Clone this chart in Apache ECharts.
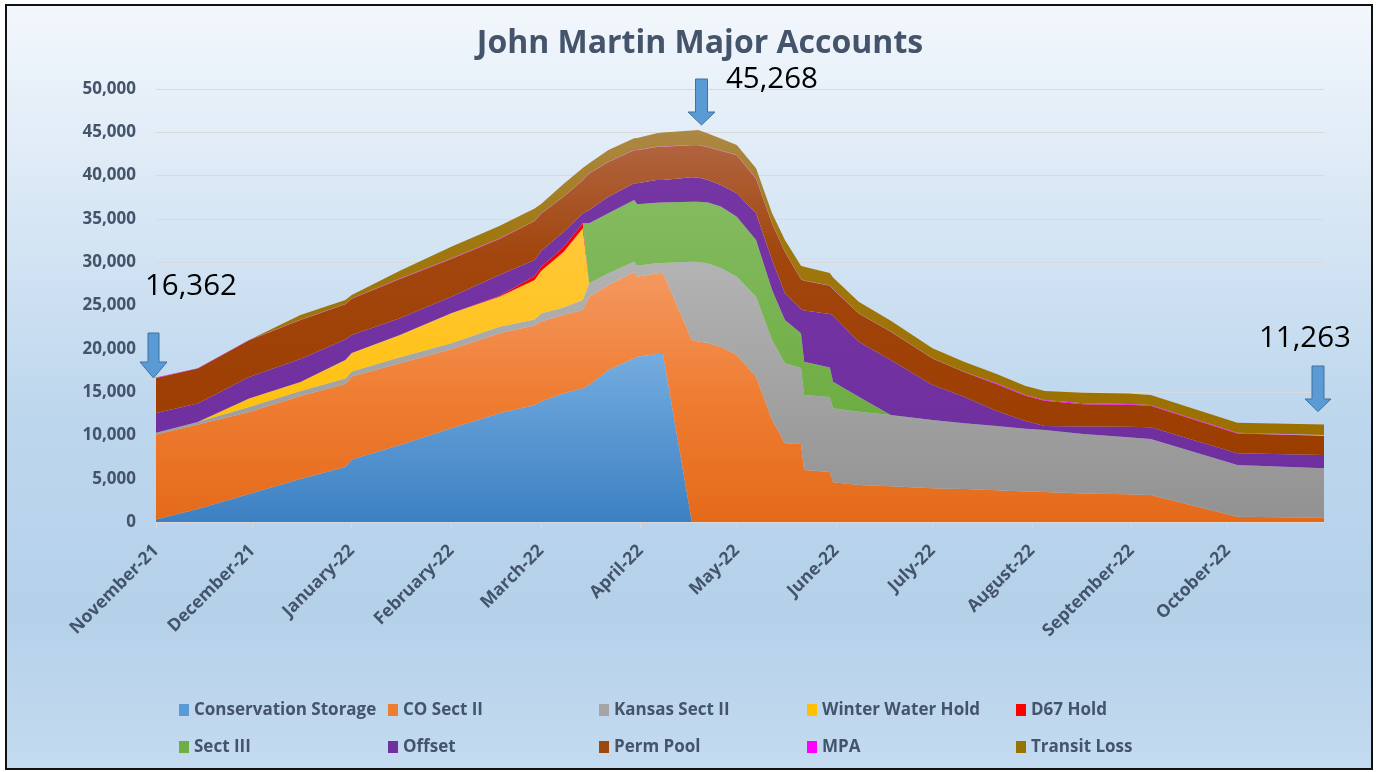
<!DOCTYPE html>
<html>
<head>
<meta charset="utf-8">
<script src="https://cdn.jsdelivr.net/npm/echarts@6/dist/echarts.min.js"></script>
<style>
html,body{margin:0;padding:0;background:#ffffff;}
#chart{width:1376px;height:772px;}
</style>
</head>
<body>
<div id="chart"></div>
<script>
// ---------------- DATA ----------------
const dates = [
  '2021-11-01','2021-11-14','2021-11-30','2021-12-16','2021-12-30','2022-01-01','2022-01-16','2022-02-01','2022-02-16','2022-02-27',
  '2022-03-01','2022-03-08','2022-03-14','2022-03-16','2022-03-22','2022-03-30','2022-03-31','2022-04-06','2022-04-08','2022-04-17',
  '2022-04-19','2022-04-22','2022-04-26','2022-05-01','2022-05-07','2022-05-12','2022-05-16','2022-05-21','2022-05-22','2022-05-30',
  '2022-05-31','2022-06-08','2022-06-18','2022-07-01','2022-07-11','2022-07-21','2022-07-30','2022-08-05','2022-08-17','2022-08-31',
  '2022-09-07','2022-10-04','2022-10-31'
];
const conservationStorage = [
  289,1501,3233,4965,6351,7217,8891,10820,12552,13510,
  13914,14861,15438,15819,17551,18902,19087,19399,19399,0,
  0,0,0,0,0,0,0,0,0,0,
  0,0,0,0,0,0,0,0,0,0,
  0,0,0
];
const coSectII = [
  9815,9757,9469,9584,9584,9584,9434,9122,9238,9180,
  9238,9064,9042,10196,9815,10000,9238,9318,9353,21016,
  20843,20669,20207,19283,16778,11778,9087,9007,6004,5774,
  4584,4272,4122,3891,3811,3660,3522,3464,3291,3198,
  3118,612,497
];
const kansasSectII = [
  196,289,577,577,635,577,693,693,762,693,
  924,843,1155,1547,1351,1155,1270,1155,1155,9041,
  9180,9180,9122,9041,9238,9238,9238,8776,8660,8660,
  8545,8464,8233,7887,7586,7425,7252,7159,6870,6582,
  6466,5970,5704
];
const winterWaterHold = [
  0,0,981,1039,2136,2136,2575,3464,3464,4561,
  4907,6409,8279,0,0,0,0,0,0,0,
  0,0,0,0,0,0,0,0,0,0,
  0,0,0,0,0,0,0,0,0,0,
  0,0,0
];
const d67Hold = [
  0,0,0,0,0,0,0,0,81,462,
  462,577,577,0,0,0,0,0,0,0,
  0,0,0,0,0,0,0,0,0,0,
  0,0,0,0,0,0,0,0,0,0,
  0,0,0
];
const sectIII = [
  0,0,0,0,0,0,0,0,0,0,
  0,0,0,6928,6928,7124,7090,6998,6986,6928,
  6963,7044,7101,6928,6547,5774,5000,4007,3845,3406,
  3072,1732,0,0,0,0,0,0,0,0,
  0,0,0
];
const offset = [
  2286,2136,2483,2656,2367,2078,1928,1917,2425,1848,
  1848,1732,1155,1536,1917,1928,2425,2621,2598,2817,
  2794,2598,2483,2702,3083,3464,3083,2806,5912,6178,
  7644,6351,6351,4041,3037,1732,889,462,866,1212,
  1351,1351,1536
];
const permPool = [
  4053,4041,4237,4503,4064,4180,4549,4364,4168,4500,
  4291,4064,3810,4203,4006,3810,3810,3810,3833,3695,
  3718,3776,3949,4387,4000,4203,4769,3429,3429,3256,
  3025,3244,3256,3048,2852,3098,2902,2902,2579,2533,
  2475,2279,2209
];
const mpa = [
  35,35,35,35,35,35,35,35,35,35,
  35,35,35,35,35,35,35,35,35,35,
  35,35,35,35,35,35,35,35,35,35,
  35,35,35,35,35,100,100,100,100,100,
  100,100,100
];
const transitLoss = [
  0,0,0,543,462,404,912,1374,1455,1411,
  1100,1443,1386,1155,1351,1351,1386,1547,1617,1674,
  1735,1559,1386,1155,1161,1155,1351,1536,1594,1443,
  1328,1339,1247,1155,1155,1074,1039,1039,1224,1212,
  1155,1155,1217
];
const seriesNames = ['Conservation Storage','CO Sect II','Kansas Sect II','Winter Water Hold','D67 Hold',
                     'Sect III','Offset','Perm Pool','MPA','Transit Loss'];
const monthLabels = ['January','February','March','April','May','June','July','August','September','October','November','December'];
const chartTitle = 'John Martin Major Accounts';
const calloutLabels = ['16,362','45,268','11,263'];

// ---------------- STYLE ----------------
const seriesValues = [conservationStorage, coSectII, kansasSectII, winterWaterHold, d67Hold,
                      sectIII, offset, permPool, mpa, transitLoss];
const seriesStyles = [
  {c:'#5b9bd5', g:[[0,'#74acdf'],[1,'#3c80c3']]},
  {c:'#ed7d31', g:[[0,'#f4985f'],[0.5,'#ef7d32'],[1,'#e46a1a']]},
  {c:'#a5a5a5', g:[[0,'#b3b3b3'],[1,'#929292']]},
  {c:'#ffc000', g:[[0,'#ffc83c'],[1,'#ffbf00']]},
  {c:'#ff0000', g:[[0,'#ff0000'],[1,'#ff0000']]},
  {c:'#70ad47', g:[[0,'#84bb60'],[1,'#68a93c']]},
  {c:'#7030a0', g:[[0,'#7535a3'],[1,'#6f2f9f']]},
  {c:'#9e480e', g:[[0,'#b0643f'],[0.35,'#a2460e'],[1,'#9c3d00']]},
  {c:'#ff00ff', g:[[0,'#ff00ff'],[1,'#ff00ff']]},
  {c:'#997300', g:[[0,'#ac8846'],[0.35,'#a07810'],[1,'#9b7000']]}
];
const FONT = '"Open Sans", "DejaVu Sans", sans-serif';
const AXIS_COLOR = '#44546a';
const DAY = 86400000;
const toTime = s => new Date(s + 'T00:00:00').getTime();

const chart = echarts.init(document.getElementById('chart'), null, {renderer:'canvas'});

const series = seriesNames.map((name, i) => ({
  name,
  type: 'line',
  stack: 'total',
  symbol: 'none',
  smooth: false,
  lineStyle: {width: 0, opacity: 0},
  itemStyle: {color: seriesStyles[i].c},
  areaStyle: {
    opacity: 1,
    color: new echarts.graphic.LinearGradient(0, 0, 0, 1,
      seriesStyles[i].g.map(([o, c]) => ({offset: o, color: c})))
  },
  emphasis: {disabled: true},
  data: dates.map((d, j) => [toTime(d), seriesValues[i][j]])
}));

// legend layout: 2 rows x 5 columns
const legendCols = [179, 388, 599, 807, 1016];
const legendRows = [701, 738];
const legends = seriesNames.map((name, i) => ({
  data: [name],
  left: legendCols[i % 5],
  top: legendRows[Math.floor(i / 5)],
  padding: 0,
  icon: 'rect',
  itemWidth: 10,
  itemHeight: 12,
  selectedMode: false,
  textStyle: {color: AXIS_COLOR, fontWeight: 'bold', fontSize: 17, fontFamily: FONT, lineHeight: 18}
}));

function arrow(cx, top, headStart, tip, shaftW, headW) {
  return {
    type: 'polygon',
    z: 100,
    shape: {points: [
      [cx - shaftW/2, top], [cx + shaftW/2, top], [cx + shaftW/2, headStart],
      [cx + headW/2, headStart], [cx, tip], [cx - headW/2, headStart], [cx - shaftW/2, headStart]
    ]},
    style: {fill: '#5b9bd5', stroke: '#41719c', lineWidth: 1}
  };
}
function callout(text, x, y) {
  return {
    type: 'text', z: 100, x, y,
    style: {text, fill: '#000000', font: '29.5px ' + FONT, align: 'left', verticalAlign: 'middle'}
  };
}

const option = {
  animation: false,
  backgroundColor: 'transparent',
  title: {
    text: chartTitle,
    left: 695, top: 23, textAlign: 'center',
    textStyle: {color: AXIS_COLOR, fontSize: 32, fontWeight: 'bold', fontFamily: FONT}
  },
  legend: legends,
  grid: {left: 156, right: 52, top: 89, bottom: 250, containLabel: false, outerBoundsMode: 'none'},
  xAxis: {
    type: 'time',
    min: toTime(dates[0]),
    max: toTime(dates[dates.length - 1]),
    splitNumber: 12,
    minInterval: 28 * DAY,
    maxInterval: 31 * DAY,
    axisLine: {show: true, lineStyle: {color: '#d9d9d9', width: 1}},
    axisTick: {show: true, length: 6, lineStyle: {color: '#d9d9d9'}},
    splitLine: {show: false},
    axisLabel: {
      rotate: 45, margin: 26, color: AXIS_COLOR, fontWeight: 'bold', fontSize: 17.5, fontFamily: FONT,
      showMaxLabel: false, hideOverlap: false,
      formatter: v => { const d = new Date(v); return monthLabels[d.getMonth()] + '-' + String(d.getFullYear()).slice(2); }
    }
  },
  yAxis: {
    type: 'value', min: 0, max: 50000, interval: 5000,
    axisLine: {show: false}, axisTick: {show: false},
    splitLine: {lineStyle: {color: '#d9d9d9', width: 1}},
    axisLabel: {margin: 20, color: AXIS_COLOR, fontWeight: 'bold', fontSize: 17, fontFamily: FONT,
      formatter: v => v.toLocaleString('en-US')}
  },
  graphic: [
    {
      type: 'rect', z: -100, silent: true,
      shape: {x: 6, y: 5, width: 1366, height: 764},
      style: {
        fill: new echarts.graphic.LinearGradient(0, 0, 0, 1, [
          {offset: 0, color: '#f3f7fc'}, {offset: 0.55, color: '#bcd6ed'},
          {offset: 0.8, color: '#b5d1ea'}, {offset: 1, color: '#c4dbf0'}
        ]),
        stroke: '#111111', lineWidth: 2
      }
    },
    arrow(153.5, 333, 362, 378, 11, 27),
    arrow(701.5, 79, 112, 125, 12, 27),
    arrow(1318, 366, 399, 411.5, 12, 26),
    callout(calloutLabels[0], 145, 287),
    callout(calloutLabels[1], 726, 80),
    callout(calloutLabels[2], 1259, 339)
  ],
  series
};
chart.setOption(option);
</script>
</body>
</html>
